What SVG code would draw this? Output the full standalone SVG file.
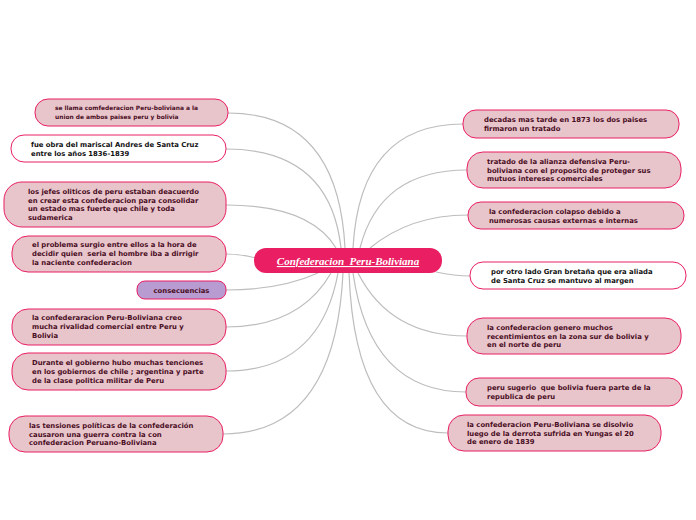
<svg xmlns="http://www.w3.org/2000/svg" width="696" height="520" viewBox="0 0 696 520">
<style>
.n{fill:#e8c5cb;stroke:#e91e63;stroke-width:1}
.w{fill:#ffffff;stroke:#e91e63;stroke-width:1}
.c{fill:#b89bd0;stroke:#e91e63;stroke-width:1}
.t{font-family:"DejaVu Sans",Verdana,sans-serif;font-weight:bold;font-size:6.85px;fill:#4a0d24;white-space:pre}
.s{font-size:5.9px}
.k{fill:#111111}
.e{fill:none;stroke:#bdbdbd;stroke-width:1.2}
.title{font-family:"Liberation Serif","Times New Roman",serif;font-weight:bold;font-style:italic;font-size:11px;fill:#ffffff;text-decoration:underline;white-space:pre}
</style>
<rect width="696" height="520" fill="#ffffff"/>
<g id="connectors">
<path class="e" d="M228,113 Q338,113 345,248"/>
<path class="e" d="M226,149 Q330,149 341,248"/>
<path class="e" d="M226,205 Q310,205 336,248"/>
<path class="e" d="M226,254 Q240,254 256,258"/>
<path class="e" d="M226,290 Q280,290 318,273"/>
<path class="e" d="M226,327 Q300,327 331,273"/>
<path class="e" d="M226,371 Q320,371 338,273"/>
<path class="e" d="M223,434 Q335,434 343,273"/>
<path class="e" d="M463,124 Q360,124 353,248"/>
<path class="e" d="M467,170 Q380,170 360,248"/>
<path class="e" d="M468,215 Q410,215 370,248"/>
<path class="e" d="M470,276 Q455,276 436,272"/>
<path class="e" d="M467,336 Q390,336 358,273"/>
<path class="e" d="M466,392 Q370,392 353,273"/>
<path class="e" d="M448,433 Q355,433 349,273"/>
</g>
<g id="center">
<rect x="254" y="248" width="188" height="25" rx="12" fill="#e91e63"/>
<text class="title" x="348" y="265" text-anchor="middle">Confederacion  Peru-Boliviana</text>
</g>
<g id="l1"><rect class="n" x="35" y="99" width="193" height="27" rx="13"/>
<text class="t s" x="55"><tspan x="55" y="110">se llama comfederacion Peru-boliviana a la</tspan><tspan x="55" y="119">union de ambos paises peru y bolivia</tspan></text></g>
<g id="l2"><rect class="w" x="11" y="135" width="215" height="27" rx="13"/>
<text class="t k"><tspan x="31" y="147">fue obra del mariscal Andres de Santa Cruz</tspan><tspan x="31" y="156">entre los años 1836-1839</tspan></text></g>
<g id="l3"><rect class="n" x="4" y="182" width="222" height="45" rx="18"/>
<text class="t"><tspan x="28" y="194">los jefes oliticos de peru estaban deacuerdo</tspan><tspan x="28" y="202.5">en crear esta confederacion para consolidar</tspan><tspan x="28" y="211">un estado mas fuerte que chile y toda</tspan><tspan x="28" y="219.5">sudamerica</tspan></text></g>
<g id="l4"><rect class="n" x="12" y="236" width="214" height="36" rx="16"/>
<text class="t"><tspan x="32" y="247">el problema surgio entre ellos a la hora de</tspan><tspan x="32" y="256">decidir quien  seria el hombre iba a dirrigir</tspan><tspan x="32" y="264.5">la naciente confederacion</tspan></text></g>
<g id="l5"><rect class="c" x="137" y="281" width="89" height="18" rx="8"/>
<text class="t" x="181.5" y="292.5" text-anchor="middle">consecuencias</text></g>
<g id="l6"><rect class="n" x="12" y="309" width="214" height="36" rx="16"/>
<text class="t"><tspan x="32" y="320">la confederaracion Peru-Boliviana creo</tspan><tspan x="32" y="329">mucha rivalidad comercial entre Peru y</tspan><tspan x="32" y="337.5">Bolivia</tspan></text></g>
<g id="l7"><rect class="n" x="12" y="353" width="214" height="37" rx="16"/>
<text class="t"><tspan x="32" y="365">Durante el gobierno hubo muchas tenciones</tspan><tspan x="32" y="374">en los gobiernos de chile ; argentina y parte</tspan><tspan x="32" y="382.5">de la clase politica militar de Peru</tspan></text></g>
<g id="l8"><rect class="n" x="9" y="416" width="214" height="36" rx="16"/>
<text class="t"><tspan x="29" y="428">las tensiones políticas de la confederación</tspan><tspan x="29" y="436.5">causaron una guerra contra la con</tspan><tspan x="29" y="445">confederacion Peruano-Boliviana</tspan></text></g>
<g id="r1"><rect class="n" x="463" y="110" width="216" height="28" rx="13"/>
<text class="t"><tspan x="484" y="122">decadas mas tarde en 1873 los dos paises</tspan><tspan x="484" y="131">firmaron un tratado</tspan></text></g>
<g id="r2"><rect class="n" x="467" y="152" width="214" height="36" rx="16"/>
<text class="t"><tspan x="487" y="164">tratado de la alianza defensiva Peru-</tspan><tspan x="487" y="172.5">boliviana con el proposito de proteger sus</tspan><tspan x="487" y="181">mutuos intereses comerciales</tspan></text></g>
<g id="r3"><rect class="n" x="468" y="202" width="216" height="27" rx="13"/>
<text class="t"><tspan x="489" y="213.5">la confederacion colapso debido a</tspan><tspan x="489" y="222.5">numerosas causas externas e internas</tspan></text></g>
<g id="r4"><rect class="w" x="470" y="262" width="216" height="27" rx="13"/>
<text class="t k"><tspan x="491" y="273.5">por otro lado Gran bretaña que era aliada</tspan><tspan x="491" y="282.5">de Santa Cruz se mantuvo al margen</tspan></text></g>
<g id="r5"><rect class="n" x="467" y="318" width="214" height="36" rx="16"/>
<text class="t"><tspan x="487" y="330">la confederacion genero muchos</tspan><tspan x="487" y="338.5">recentimientos en la zona sur de bolivia y</tspan><tspan x="487" y="347">en el norte de peru</tspan></text></g>
<g id="r6"><rect class="n" x="466" y="378" width="216" height="28" rx="13"/>
<text class="t"><tspan x="487" y="390">peru sugerio  que bolivia fuera parte de la</tspan><tspan x="487" y="399">republica de peru</tspan></text></g>
<g id="r7"><rect class="n" x="448" y="415" width="213" height="36" rx="16"/>
<text class="t"><tspan x="467" y="427">la confederacion Peru-Boliviana se disolvio</tspan><tspan x="467" y="435.5">luego de la derrota sufrida en Yungas el 20</tspan><tspan x="467" y="444">de enero de 1839</tspan></text></g>
</svg>
